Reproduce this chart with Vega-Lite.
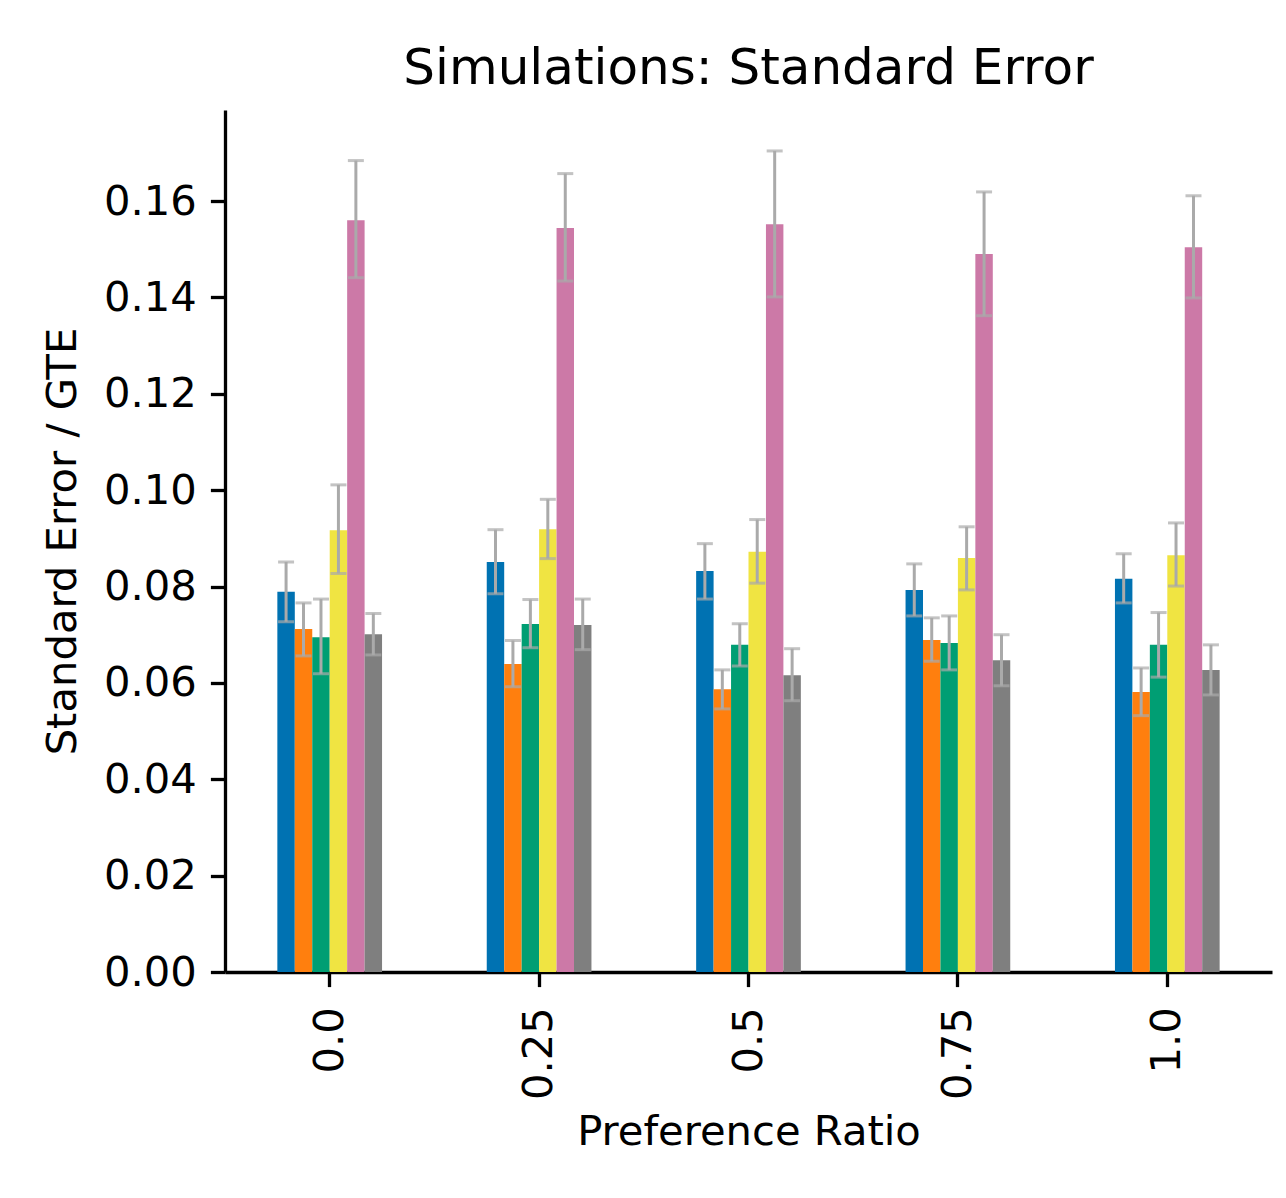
{
  "$schema": "https://vega.github.io/schema/vega-lite/v6.json",
  "autosize": {"type": "none"},
  "width": 1047,
  "height": 862,
  "padding": {"left": 225, "top": 110, "right": 14, "bottom": 226},
  "background": "white",
  "config": {
    "view": {"stroke": null},
    "font": "DejaVu Sans",
    "axis": {
      "grid": false,
      "domainColor": "black",
      "domainWidth": 3.3,
      "tickColor": "black",
      "tickWidth": 3.3,
      "tickSize": 14.6,
      "labelFont": "DejaVu Sans",
      "labelFontSize": 41.7,
      "labelColor": "black",
      "labelPadding": 14,
      "titleFont": "DejaVu Sans",
      "titleFontSize": 41.7,
      "titleFontWeight": "normal",
      "titleColor": "black"
    }
  },
  "title": {
    "text": "Simulations: Standard Error",
    "font": "DejaVu Sans",
    "fontSize": 50,
    "fontWeight": "normal",
    "color": "black",
    "anchor": "middle",
    "baseline": "alphabetic",
    "offset": -24
  },
  "data": {
    "values": [
      {"ratio": "0.0", "series": "s1", "value": 0.0789, "lo": 0.0727, "hi": 0.0851},
      {"ratio": "0.0", "series": "s2", "value": 0.0712, "lo": 0.0656, "hi": 0.0766},
      {"ratio": "0.0", "series": "s3", "value": 0.0695, "lo": 0.0619, "hi": 0.0774},
      {"ratio": "0.0", "series": "s4", "value": 0.0917, "lo": 0.0827, "hi": 0.1011},
      {"ratio": "0.0", "series": "s5", "value": 0.1560, "lo": 0.1441, "hi": 0.1684},
      {"ratio": "0.0", "series": "s6", "value": 0.0701, "lo": 0.0658, "hi": 0.0744},
      {"ratio": "0.25", "series": "s1", "value": 0.0851, "lo": 0.0785, "hi": 0.0918},
      {"ratio": "0.25", "series": "s2", "value": 0.0639, "lo": 0.0592, "hi": 0.0688},
      {"ratio": "0.25", "series": "s3", "value": 0.0722, "lo": 0.0673, "hi": 0.0773},
      {"ratio": "0.25", "series": "s4", "value": 0.0919, "lo": 0.0858, "hi": 0.0981},
      {"ratio": "0.25", "series": "s5", "value": 0.1544, "lo": 0.1434, "hi": 0.1657},
      {"ratio": "0.25", "series": "s6", "value": 0.0720, "lo": 0.0669, "hi": 0.0774},
      {"ratio": "0.5", "series": "s1", "value": 0.0832, "lo": 0.0774, "hi": 0.0889},
      {"ratio": "0.5", "series": "s2", "value": 0.0587, "lo": 0.0546, "hi": 0.0627},
      {"ratio": "0.5", "series": "s3", "value": 0.0679, "lo": 0.0635, "hi": 0.0723},
      {"ratio": "0.5", "series": "s4", "value": 0.0872, "lo": 0.0807, "hi": 0.0939},
      {"ratio": "0.5", "series": "s5", "value": 0.1552, "lo": 0.1401, "hi": 0.1704},
      {"ratio": "0.5", "series": "s6", "value": 0.0616, "lo": 0.0563, "hi": 0.0671},
      {"ratio": "0.75", "series": "s1", "value": 0.0793, "lo": 0.0739, "hi": 0.0847},
      {"ratio": "0.75", "series": "s2", "value": 0.0689, "lo": 0.0645, "hi": 0.0735},
      {"ratio": "0.75", "series": "s3", "value": 0.0683, "lo": 0.0627, "hi": 0.0739},
      {"ratio": "0.75", "series": "s4", "value": 0.0859, "lo": 0.0793, "hi": 0.0924},
      {"ratio": "0.75", "series": "s5", "value": 0.1490, "lo": 0.1362, "hi": 0.1619},
      {"ratio": "0.75", "series": "s6", "value": 0.0647, "lo": 0.0594, "hi": 0.0700},
      {"ratio": "1.0", "series": "s1", "value": 0.0816, "lo": 0.0766, "hi": 0.0868},
      {"ratio": "1.0", "series": "s2", "value": 0.0581, "lo": 0.0532, "hi": 0.0631},
      {"ratio": "1.0", "series": "s3", "value": 0.0679, "lo": 0.0612, "hi": 0.0746},
      {"ratio": "1.0", "series": "s4", "value": 0.0865, "lo": 0.0801, "hi": 0.0932},
      {"ratio": "1.0", "series": "s5", "value": 0.1504, "lo": 0.1399, "hi": 0.1611},
      {"ratio": "1.0", "series": "s6", "value": 0.0627, "lo": 0.0575, "hi": 0.0679}
    ]
  },
  "encoding": {
    "x": {
      "field": "ratio",
      "type": "nominal",
      "sort": ["0.0", "0.25", "0.5", "0.75", "1.0"],
      "scale": {"paddingInner": 0.5, "paddingOuter": 0.25},
      "axis": {
        "title": "Preference Ratio",
        "labelAngle": 270,
        "labelAlign": "right",
        "labelBaseline": "middle",
        "labelPadding": 20,
        "titlePadding": 12
      }
    },
    "xOffset": {
      "field": "series",
      "type": "nominal",
      "sort": ["s1", "s2", "s3", "s4", "s5", "s6"],
      "scale": {"paddingInner": 0, "paddingOuter": 0}
    }
  },
  "layer": [
    {
      "mark": {"type": "bar", "stroke": null},
      "encoding": {
        "y": {
          "field": "value",
          "type": "quantitative",
          "scale": {"domain": [0, 0.1789], "nice": false},
          "axis": {
            "title": "Standard Error / GTE",
            "values": [0, 0.02, 0.04, 0.06, 0.08, 0.1, 0.12, 0.14, 0.16],
            "format": ".2f",
            "titlePadding": 19
          }
        },
        "color": {
          "field": "series",
          "type": "nominal",
          "scale": {
            "domain": ["s1", "s2", "s3", "s4", "s5", "s6"],
            "range": ["#0072B2", "#FF7F0E", "#009E73", "#F0E442", "#CC79A7", "#7F7F7F"]
          },
          "legend": null
        }
      }
    },
    {
      "mark": {"type": "rule", "color": "#aaaaaa", "strokeWidth": 3},
      "encoding": {
        "y": {"field": "lo", "type": "quantitative"},
        "y2": {"field": "hi"}
      }
    },
    {
      "mark": {"type": "tick", "color": "#aaaaaa", "size": 16, "thickness": 3, "orient": "horizontal"},
      "encoding": {
        "y": {"field": "lo", "type": "quantitative"}
      }
    },
    {
      "mark": {"type": "tick", "color": "#aaaaaa", "size": 16, "thickness": 3, "orient": "horizontal"},
      "encoding": {
        "y": {"field": "hi", "type": "quantitative"}
      }
    }
  ]
}
